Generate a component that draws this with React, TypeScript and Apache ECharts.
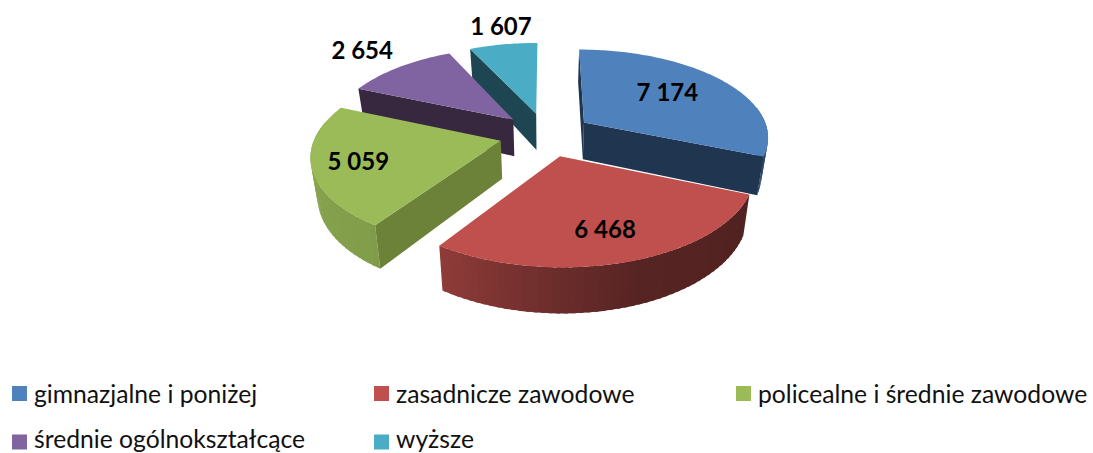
import React, { useEffect, useRef } from "react";
import * as echarts from "echarts";

const categories = [
  "gimnazjalne i poniżej",
  "zasadnicze zawodowe",
  "policealne i średnie zawodowe",
  "średnie ogólnokształcące",
  "wyższe",
];
const values = [7174, 6468, 5059, 2654, 1607];
const valueLabels = ["7 174", "6 468", "5 059", "2 654", "1 607"];

const topColors = ["#4F81BD", "#C0504D", "#9BBB59", "#8064A2", "#4BACC6"];
const cutColors = ["#1F3550", "#4E201D", "#6B8238", "#37283F", "#1D4652"];
const labelRadius = [0.6, 0.715, 0.745, 1.32, 1.3];
const labelNudge = [[-1, -4], [-1, 0], [-3, 0], [-4, -3], [6, -1]];
const legendSpots = [[12, 381], [374, 381], [736, 381], [12, 426], [374, 426]];
// Lower row: the swatch sits lower than the text box, so the text clears the page's bottom edge
const legendIcons = [
  "rect",
  "rect",
  "rect",
  "path://M0 0L0.01 0L0 0ZM0 7L15 7L15 22L0 22Z",
  "path://M0 0L0.01 0L0 0ZM0 7L15 7L15 22L0 22Z",
];
const legendIconHeights = [15, 15, 15, 22, 22];

// Projection of the tilted, exploded pie
const CX = 546, CY = 134.5, RX = 185, TY = 87.2, P = 0.1495, EXPLODE = 0.252, DEPTH = 37.5, SHRINK = 0.03;
const rad = (d: number) => (d * Math.PI) / 180;
const total = values.reduce((a, b) => a + b, 0);
const starts: number[] = [];
values.reduce((acc, v, i) => { starts[i] = acc; return acc + (v / total) * 360; }, 0);

function project(u: number, v: number, z: number): number[] {
  const w = 1 / (1 + P * v);
  return [CX + RX * u * w * (1 - SHRINK * z), CY - TY * v * w + z * DEPTH * w];
}

const shadeStops = [[80, 0.85], [100, 0.8], [112, 0.5], [113, 0.42], [160, 0.45], [180, 0.55], [214, 0.75], [215, 0.84], [260, 0.88], [360, 0.92]];
function shade(a: number): number {
  for (let i = 1; i < shadeStops.length; i++) {
    const [a0, f0] = shadeStops[i - 1], [a1, f1] = shadeStops[i];
    if (a <= a1) return a <= a0 ? f0 : f0 + ((f1 - f0) * (a - a0)) / (a1 - a0);
  }
  return 0.92;
}
function scaleColor(hex: string, f: number): string {
  const n = parseInt(hex.slice(1), 16);
  const c = [(n >> 16) & 255, (n >> 8) & 255, n & 255].map((x) => Math.round(x * f));
  return `rgb(${c[0]},${c[1]},${c[2]})`;
}

function renderSlice(i: number) {
  return (_params: any, api: any) => {
    const value = api.value(0) as number;
    const a0 = starts[i];
    const a1 = a0 + (value / total) * 360;
    const mid = (a0 + a1) / 2;
    const ox = EXPLODE * Math.sin(rad(mid));
    const oy = EXPLODE * Math.cos(rad(mid));
    const rim = (a: number, z: number) => project(ox + Math.sin(rad(a)), oy + Math.cos(rad(a)), z);
    const apex = (z: number) => project(ox, oy, z);
    const children: any[] = [];
    const poly = (points: number[][], color: string) => ({
      type: "polygon",
      shape: { points },
      style: { fill: color },
      silent: true,
    });
    // Outer wall: only the part that faces the viewer, in overlapping strips
    const wallFrom = Math.max(a0, 80);
    const wallTo = Math.min(a1, 282);
    const step = 2;
    for (let a = wallFrom; a < wallTo; a += step) {
      const b = Math.min(a + step, wallTo);
      const over = Math.min(b + 1, wallTo);
      const color = scaleColor(topColors[i], shade((a + b) / 2));
      children.push(poly([rim(a, 0), rim(over, 0), rim(over, 1), rim(a, 1)], color));
    }
    // Flat cut faces: only those that face the viewer
    if (a0 >= 180 || a0 === 0) children.push(poly([apex(0), rim(a0, 0), rim(a0, 1), apex(1)], cutColors[i]));
    if (a1 < 180) children.push(poly([apex(0), rim(a1, 0), rim(a1, 1), apex(1)], cutColors[i]));
    const top: number[][] = [apex(0)];
    for (let a = a0; a < a1; a += 1) top.push(rim(a, 0));
    top.push(rim(a1, 0));
    children.push(poly(top, topColors[i]));
    const s = EXPLODE + labelRadius[i];
    const lp = project(s * Math.sin(rad(mid)), s * Math.cos(rad(mid)), 0);
    children.push({
      type: "text",
      x: lp[0] + labelNudge[i][0],
      y: lp[1] + labelNudge[i][1],
      silent: true,
      style: {
        text: valueLabels[i],
        fill: "#000000",
        font: "bold 24px Lato",
        align: "center",
        verticalAlign: "middle",
      },
    });
    return { type: "group", children };
  };
}

export default function App() {
  const ref = useRef<HTMLDivElement>(null);
  useEffect(() => {
    document.body.style.margin = "0";
    const chart = echarts.init(ref.current!, undefined, { renderer: "svg" });
    const drawOrder = [4, 3, 0, 2, 1];
    chart.setOption({
      animation: false,
      backgroundColor: "#ffffff",
      legend: categories.map((name, i) => ({
        left: legendSpots[i][0],
        top: legendSpots[i][1],
        padding: 0,
        icon: legendIcons[i],
        itemWidth: 15,
        itemHeight: legendIconHeights[i],
        itemGap: 0,
        selectedMode: false,
        data: [{ name, itemStyle: { color: topColors[i] } }],
        textStyle: { fontFamily: "Lato", fontSize: 24.7, lineHeight: 24, color: "#111111", padding: [0, 0, 0, 2] },
      })),
      series: drawOrder.map((i) => ({
        type: "custom",
        name: categories[i],
        coordinateSystem: "none",
        itemStyle: { color: topColors[i] },
        data: [[values[i]]],
        encode: { value: 0 },
        renderItem: renderSlice(i),
        silent: true,
        z: 2,
      })),
    });
    return () => chart.dispose();
  }, []);
  return <div ref={ref} style={{ width: 1093, height: 453 }} />;
}
